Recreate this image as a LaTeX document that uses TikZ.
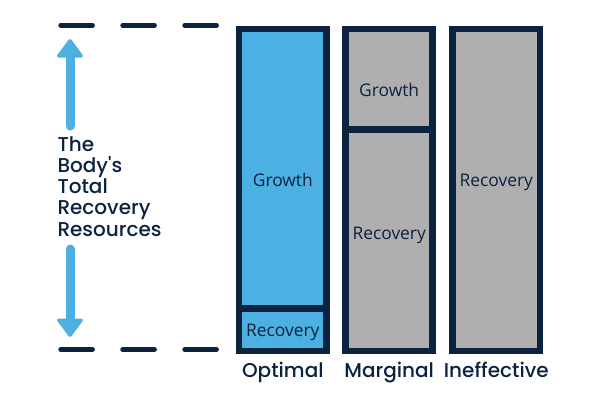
\documentclass[tikz,border=0pt]{standalone}
\usepackage{fontspec}
\setmainfont{Poppins}[UprightFont=* Medium]
\newfontfamily\opensans{Open Sans}
\definecolor{navy}{HTML}{0B2340}
\definecolor{skyb}{HTML}{4DB0E3}
\definecolor{greyf}{HTML}{AFAFAF}
\begin{document}
\begin{tikzpicture}[x=1pt,y=-1pt,
  bar/.style={draw=navy,line width=6.6pt},
  divider/.style={draw=navy,line width=7pt},
  dashline/.style={draw=navy,line width=4.6pt,line cap=round,dash pattern=on 32pt off 30pt},
  inner/.style={font=\opensans\fontsize{17.4}{20}\selectfont,text=navy,inner sep=0pt,anchor=base},
  lab/.style={font=\fontsize{20}{24}\selectfont,text=navy,inner sep=0pt},
  shaft/.style={draw=skyb,line width=9pt,line cap=round},
  head/.style={fill=skyb,draw=skyb,line width=2pt,line join=round,rounded corners=1pt}]
\useasboundingbox (0,0) rectangle (600,400);
% dashed reference lines
\coordinate (t1) at (60.6,25.3); \coordinate (t2) at (218,25.3);
\coordinate (b1) at (60.6,349.5); \coordinate (b2) at (218,349.5);
\draw[dashline] (t1) -- (t2);
\draw[dashline] (b1) -- (b2);
% arrows
\coordinate (us) at (70,126); \coordinate (ue) at (70,56);
\draw[shaft] (us) -- (ue);
\draw[head] (57.5,56.5) -- (70,39.5) -- (82.5,56.5) -- cycle;
\coordinate (ds) at (70,249); \coordinate (de) at (70,320);
\draw[shaft] (ds) -- (de);
\draw[head] (57.5,319.5) -- (70,336.5) -- (82.5,319.5) -- cycle;
% left text
\node[lab,anchor=north west,align=left,font=\fontsize{20}{21.3}\selectfont] (txt) at (57.3,136)
  {The\\Body\textquotesingle s\\Total\\Recovery\\Resources};
% bars
\filldraw[bar,fill=skyb] (239,29) rectangle (326.7,350.8);
\draw[divider] (235.7,308.7) -- (330,308.7);
\filldraw[bar,fill=greyf] (345.6,29) rectangle (432.7,350.8);
\draw[divider] (342.3,129.3) -- (436,129.3);
\filldraw[bar,fill=greyf] (452.6,29) rectangle (540,350.8);
% inner labels
\node[inner] (og) at (282.8,186) {Growth};
\node[inner] (or) at (282.8,336) {Recovery};
\node[inner] (mg) at (389.2,96.7) {Growth};
\node[inner] (mr) at (389.2,239.3) {Recovery};
\node[inner] (ir) at (496.3,186) {Recovery};
% bottom labels
\node[lab,anchor=base] (ol) at (282.8,377.3) {Optimal};
\node[lab,anchor=base] (ml) at (389.2,377.3) {Marginal};
\node[lab,anchor=base] (il) at (496.3,377.3) {Ineffective};
\end{tikzpicture}
\end{document}
